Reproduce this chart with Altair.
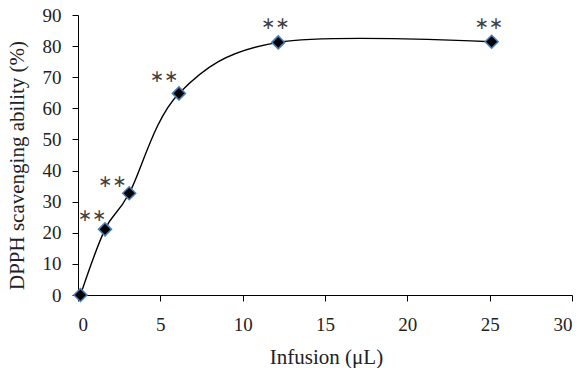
import altair as alt
import pandas as pd

# Data
infusion = [0.15, 1.64, 3.11, 6.13, 12.16, 25.12]
scavenging = [0.0, 21.1, 32.7, 64.8, 81.2, 81.4]
marks = ["", "∗∗", "∗∗", "∗∗", "∗∗", "∗∗"]

# label offsets (style, in pixels)
label_dx = [0, -13, -17, -15, -3, -3]
label_dy = [0, -13, -11, -16, -18, -18]

df = pd.DataFrame({"x": infusion, "y": scavenging, "sig": marks,
                   "i": list(range(len(infusion)))})

FONT = "Liberation Serif"

x_enc = alt.X("x:Q", scale=alt.Scale(domain=[0, 30], nice=False),
              axis=alt.Axis(values=[0, 5, 10, 15, 20, 25, 30], title="Infusion (μL)",
                            grid=False, tickSize=6, labelPadding=14, labelOverlap=False,
                            titleX=248, titleY=62, titleBaseline="middle",
                            labelFontSize=19, titleFontSize=21, labelFont=FONT, titleFont=FONT,
                            titleFontWeight="normal", labelColor="#222", titleColor="#222",
                            domainColor="#000", tickColor="#000"))
y_enc = alt.Y("y:Q", scale=alt.Scale(domain=[0, 90], nice=False),
              axis=alt.Axis(values=list(range(0, 91, 10)), title="DPPH scavenging ability (%)",
                            grid=False, tickSize=6, labelPadding=11, labelOverlap=False,
                            titleX=-61, titleY=150, titleBaseline="middle",
                            labelFontSize=19, titleFontSize=21, labelFont=FONT, titleFont=FONT,
                            titleFontWeight="normal", labelColor="#222", titleColor="#222",
                            domainColor="#000", tickColor="#000"))

base = alt.Chart(df).encode(x=x_enc, y=y_enc)

line = base.mark_line(interpolate="cardinal", color="black", strokeWidth=1.4)
pts = base.mark_point(shape="diamond", filled=True, fill="black", stroke="#4a7ebb",
                      strokeWidth=1.5, size=170, opacity=1)

layers = [line, pts]
for i in range(1, len(infusion)):
    layers.append(
        base.transform_filter(alt.datum.i == i)
        .mark_text(font="DejaVu Sans", fontSize=17, color="#404040",
                   dx=label_dx[i], dy=label_dy[i])
        .encode(text="sig:N")
    )

chart = alt.layer(*layers).properties(
    width=494, height=280,
    background="white",
    autosize=alt.AutoSizeParams(type="none"),
    padding={"left": 78, "top": 15, "right": 16, "bottom": 73},
).configure_view(stroke=None)

chart.save("out.html", embed_options={"renderer": "svg", "actions": False})
